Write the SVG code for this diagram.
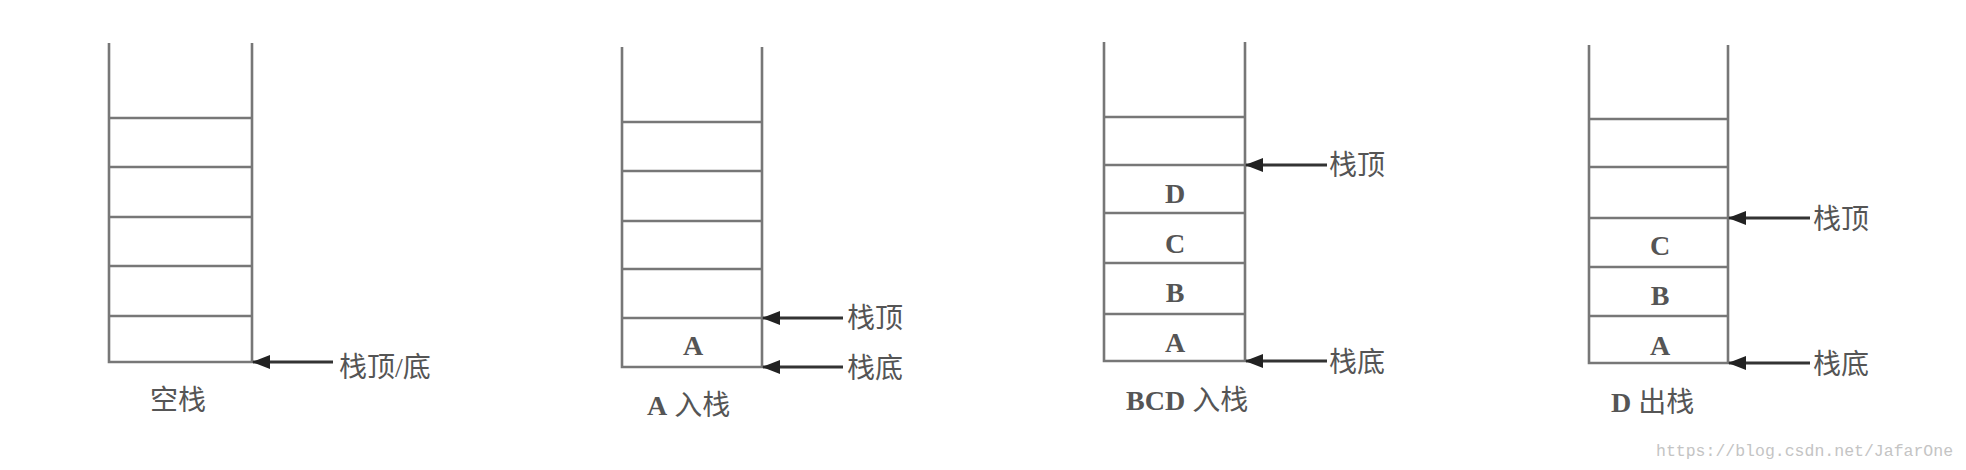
<svg xmlns="http://www.w3.org/2000/svg" width="1966" height="470" viewBox="0 0 1966 470">
<defs>
<marker id="ah" markerWidth="18" markerHeight="14" refX="17" refY="7" orient="auto" markerUnits="userSpaceOnUse">
<path d="M0,0 L18,7 L0,14 Z" fill="#222"/>
</marker>
<style>
.w{stroke:#777;stroke-width:2.6;fill:none}
.c{stroke:#333;stroke-width:3;fill:none}
.lbl{font-family:"Liberation Serif","Noto Sans CJK SC",serif;font-size:28px;fill:#555}
.b{font-weight:bold}
.let{font-family:"Liberation Serif",serif;font-size:28px;font-weight:bold;fill:#555;text-anchor:middle}
.wm{font-family:"Liberation Mono",monospace;font-size:16.5px;fill:#c4c4c4}
</style>
</defs>
<rect width="1966" height="470" fill="#fff"/>

<g id="stack1">
<path class="w" d="M109,43 V362 H252 V43"/>
<path class="w" d="M109,118 H252 M109,167 H252 M109,217 H252 M109,266 H252 M109,316 H252"/>
<text class="lbl" x="150" y="410">空栈</text>
<text class="lbl" x="339" y="377">栈顶/底</text>
</g>

<g id="stack2">
<path class="w" d="M622,47 V367 H762 V47"/>
<path class="w" d="M622,122 H762 M622,171 H762 M622,221 H762 M622,269 H762 M622,318 H762"/>
<text class="let" x="693" y="355">A</text>
<text class="lbl" x="647" y="415"><tspan class="b">A</tspan> 入栈</text>
<text class="lbl" x="847" y="328">栈顶</text>
<text class="lbl" x="847" y="378">栈底</text>
</g>

<g id="stack3">
<path class="w" d="M1104,42 V361 H1245 V42"/>
<path class="w" d="M1104,117 H1245 M1104,165 H1245 M1104,213 H1245 M1104,263 H1245 M1104,314 H1245"/>
<text class="let" x="1175" y="203">D</text>
<text class="let" x="1175" y="253">C</text>
<text class="let" x="1175" y="302">B</text>
<text class="let" x="1175" y="352">A</text>
<text class="lbl" x="1126" y="410"><tspan class="b">BCD</tspan> 入栈</text>
<text class="lbl" x="1329" y="175">栈顶</text>
<text class="lbl" x="1329" y="372">栈底</text>
</g>

<g id="stack4">
<path class="w" d="M1589,45 V363 H1728 V45"/>
<path class="w" d="M1589,119 H1728 M1589,167 H1728 M1589,218 H1728 M1589,267 H1728 M1589,316 H1728"/>
<text class="let" x="1660" y="255">C</text>
<text class="let" x="1660" y="305">B</text>
<text class="let" x="1660" y="355">A</text>
<text class="lbl" x="1611" y="412"><tspan class="b">D</tspan> 出栈</text>
<text class="lbl" x="1813" y="229">栈顶</text>
<text class="lbl" x="1813" y="374">栈底</text>
</g>

<g id="connectors">
<line class="c" x1="333" y1="362" x2="253" y2="362" marker-end="url(#ah)"/>
<line class="c" x1="843" y1="318" x2="763" y2="318" marker-end="url(#ah)"/>
<line class="c" x1="843" y1="367" x2="763" y2="367" marker-end="url(#ah)"/>
<line class="c" x1="1327" y1="165" x2="1246" y2="165" marker-end="url(#ah)"/>
<line class="c" x1="1327" y1="361" x2="1246" y2="361" marker-end="url(#ah)"/>
<line class="c" x1="1810" y1="218" x2="1729" y2="218" marker-end="url(#ah)"/>
<line class="c" x1="1810" y1="363" x2="1729" y2="363" marker-end="url(#ah)"/>
</g>

<text class="wm" x="1656" y="456">https://blog.csdn.net/JafarOne</text>
</svg>
